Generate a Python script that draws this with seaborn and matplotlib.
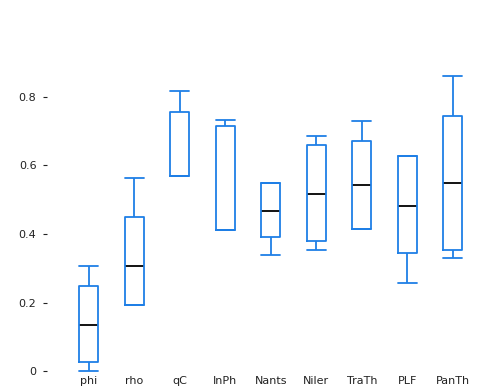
import numpy as np
import pandas as pd
import matplotlib
matplotlib.use("Agg")
import matplotlib.pyplot as plt
import seaborn as sns

categories = ["phi", "rho", "qC", "InPh", "Nants", "Niler", "TraTh", "PLF", "PanTh"]
# five-number summaries: [low whisker, q1, median, q3, high whisker]
phi = [0.0, 0.026, 0.136, 0.248, 0.307]
rho = [0.194, 0.194, 0.307, 0.449, 0.562]
qC = [0.568, 0.568, 0.568, 0.754, 0.815]
InPh = [0.41, 0.41, 0.41, 0.713, 0.733]
Nants = [0.339, 0.391, 0.467, 0.548, 0.548]
Niler = [0.354, 0.38, 0.516, 0.658, 0.684]
TraTh = [0.414, 0.414, 0.542, 0.67, 0.73]
PLF = [0.258, 0.345, 0.481, 0.626, 0.626]
PanTh = [0.33, 0.354, 0.548, 0.742, 0.861]
series = [phi, rho, qC, InPh, Nants, Niler, TraTh, PLF, PanTh]
yticks = [0, 0.2, 0.4, 0.6, 0.8]
ytick_labels = ["0", "0.2", "0.4", "0.6", "0.8"]

rows = []
for cat, vals in zip(categories, series):
    for v in vals:
        rows.append({"cat": cat, "value": v})
df = pd.DataFrame(rows)

sns.set_style("white")
plt.rcParams["font.family"] = ["DejaVu Sans"]
fig = plt.figure(figsize=(4.88, 3.92), dpi=100)
ax = fig.add_axes([0.089, 0.0485, 0.895, 0.8805])

blue = "#1f7fe6"
sns.boxplot(data=df, x="cat", y="value", order=categories, whis=np.inf,
            width=0.42, fill=False, color=blue, linecolor=blue, linewidth=1.3,
            medianprops={"color": "black", "linewidth": 1.3}, ax=ax)

# make caps as wide as the boxes; keep medians beneath the box outline
half = 0.21
for ln in ax.lines:
    xd = np.asarray(ln.get_xdata(), dtype=float)
    yd = np.asarray(ln.get_ydata(), dtype=float)
    if ln.get_color() == "black":
        ln.set_zorder(1.5)
        continue
    ln.set_zorder(2.5)
    if len(xd) == 2 and yd[0] == yd[1] and (xd[1] - xd[0]) < 0.3:
        c = (xd[0] + xd[1]) / 2
        ln.set_xdata([c - half, c + half])

ax.set_xlim(-1.0, 8.6)
ax.set_ylim(-0.005, 1.0)
ax.set_yticks(yticks)
ax.set_yticklabels(ytick_labels)
ax.set_xlabel("")
ax.set_ylabel("")
for s in ax.spines.values():
    s.set_visible(False)
ax.tick_params(axis="y", direction="in", length=3, width=0.8, pad=5, labelsize=8,
               left=True, colors="#222222")
ax.tick_params(axis="x", length=0, pad=2, labelsize=8, labelcolor="#222222")
fig.savefig("out.png", dpi=100)
